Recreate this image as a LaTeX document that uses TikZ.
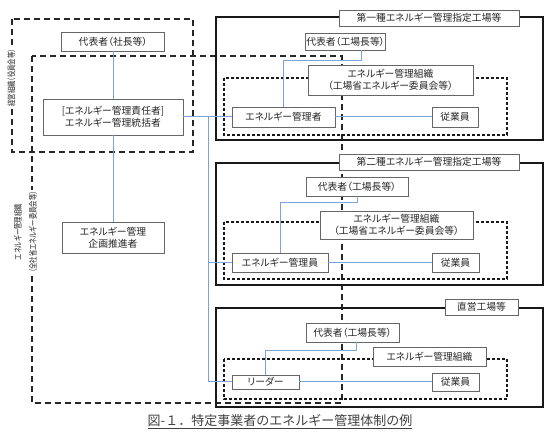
\documentclass[tikz,border=0pt]{standalone}
\usepackage{fontspec}
\setmainfont{Noto Sans CJK JP}[RawFeature=+palt]
\newfontfamily\sidefont{Noto Sans CJK JP}[RawFeature=+palt, FakeStretch=0.75]
\newfontfamily\capfont{Noto Sans CJK JP}
\definecolor{linkblue}{RGB}{120,165,220}

\begin{document}
\begin{tikzpicture}[x=1pt, y=-1pt, box/.style={draw=black!60, fill=white, line width=0.8pt, inner sep=1pt, align=center, text=black!85, font=\fontsize{9.8}{12}\selectfont}, plant/.style={draw=black!90, line width=1.4pt}, orgline/.style={draw=black!85, line width=1.2pt, dash pattern=on 6pt off 4pt}, group/.style={draw=black!90, line width=1.1pt, dash pattern=on 3pt off 2pt}, link/.style={draw=linkblue, line width=1pt}, sidelabel/.style={fill=white, rotate=90, inner sep=1pt, align=center, text=black!85, font=\sidefont\fontsize{8.5}{15}\selectfont}]
    \useasboundingbox (0,0) rectangle (550,438);

    %Frames
    \draw[orgline] (12,19) rectangle (193,152);
    \draw[orgline] (32,56) rectangle (342,403);
    \draw[plant] (216,17) rectangle (543,140);
    \draw[plant] (216,163) rectangle (543,285);
    \draw[plant] (216,308) rectangle (543,407);
    \draw[group] (224,78) rectangle (507,135);
    \draw[group] (224,222) rectangle (507,279);
    \draw[group] (224,359) rectangle (507,399);

    %Nodes
    \node[sidelabel](boardlabel) at (11.5,78){経営組織（役員会等）};
    \node[sidelabel](orglabel) at (25.5,232){エネルギー管理組織\\（全社省エネルギー委員会等）};
    \node[box, minimum width=103pt, minimum height=19pt](ceo) at (113,41.5){代表者（社長等）};
    \node[box, minimum width=140pt, minimum height=36pt](chief) at (113,117){[エネルギー管理責任者]\\エネルギー管理統括者};
    \node[box, minimum width=102pt, minimum height=31pt](planner) at (113,238){エネルギー管理\\企画推進者};

    \node[box, minimum width=180pt, minimum height=16pt](plant1) at (429,18){第一種エネルギー管理指定工場等};
    \node[box, minimum width=79pt, minimum height=17pt](head1) at (345.5,41.5){代表者（工場長等）};
    \node[box, minimum width=165pt, minimum height=30pt](org1) at (390.5,80){エネルギー管理組織\\（工場省エネルギー委員会等）};
    \node[box, minimum width=103pt, minimum height=20pt](mgr1) at (283.5,117){エネルギー管理者};
    \node[box, minimum width=46pt, minimum height=20pt](staff1) at (455,117){従業員};

    \node[box, minimum width=180pt, minimum height=16pt](plant2) at (429,162){第二種エネルギー管理指定工場等};
    \node[box, minimum width=102pt, minimum height=19pt](head2) at (357,186.5){代表者（工場長等）};
    \node[box, minimum width=153pt, minimum height=28pt](org2) at (396.5,225){エネルギー管理組織\\（工場省エネルギー委員会等）};
    \node[box, minimum width=96pt, minimum height=19pt](mgr2) at (280,262.5){エネルギー管理員};
    \node[box, minimum width=47pt, minimum height=19pt](staff2) at (455.5,262.5){従業員};

    \node[box, minimum width=73pt, minimum height=16pt](plant3) at (481.5,307){直営工場等};
    \node[box, minimum width=93pt, minimum height=19pt](head3) at (352.5,332.5){代表者（工場長等）};
    \node[box, minimum width=113pt, minimum height=19pt](org3) at (429.5,356.5){エネルギー管理組織};
    \node[box, minimum width=67pt, minimum height=14pt](leader) at (265.5,382){リーダー};
    \node[box, minimum width=47pt, minimum height=18pt](staff3) at (455.5,382){従業員};

    \node[text=black!75, font=\capfont\fontsize{13}{15}\selectfont](caption) at (280,422){\underline{図-１．特定事業者のエネルギー管理体制の例}};
    \coordinate (split) at (208,117);

    %Lines
    \draw[link] (ceo.south) -- (chief.north);
    \draw[link] (chief.south) -- (planner.north);
    \draw[link] (chief.east) -- (mgr1.west);
    \draw[link] (split) |- (mgr2.west);
    \draw[link] (split) |- (leader.west);
    \draw[link] ([xshift=16pt]head1.south) -- ++(0,10) -| (mgr1.north);
    \draw[link] (head2.south) -- ++(0,6) -| (mgr2.north);
    \draw[link] ([xshift=4pt]head3.south) -- ++(0,8) -| (leader.north);
    \draw[link] (mgr1.east) -- (staff1.west);
    \draw[link] (mgr2.east) -- (staff2.west);
    \draw[link] (leader.east) -- (staff3.west);

\end{tikzpicture}
\end{document}
